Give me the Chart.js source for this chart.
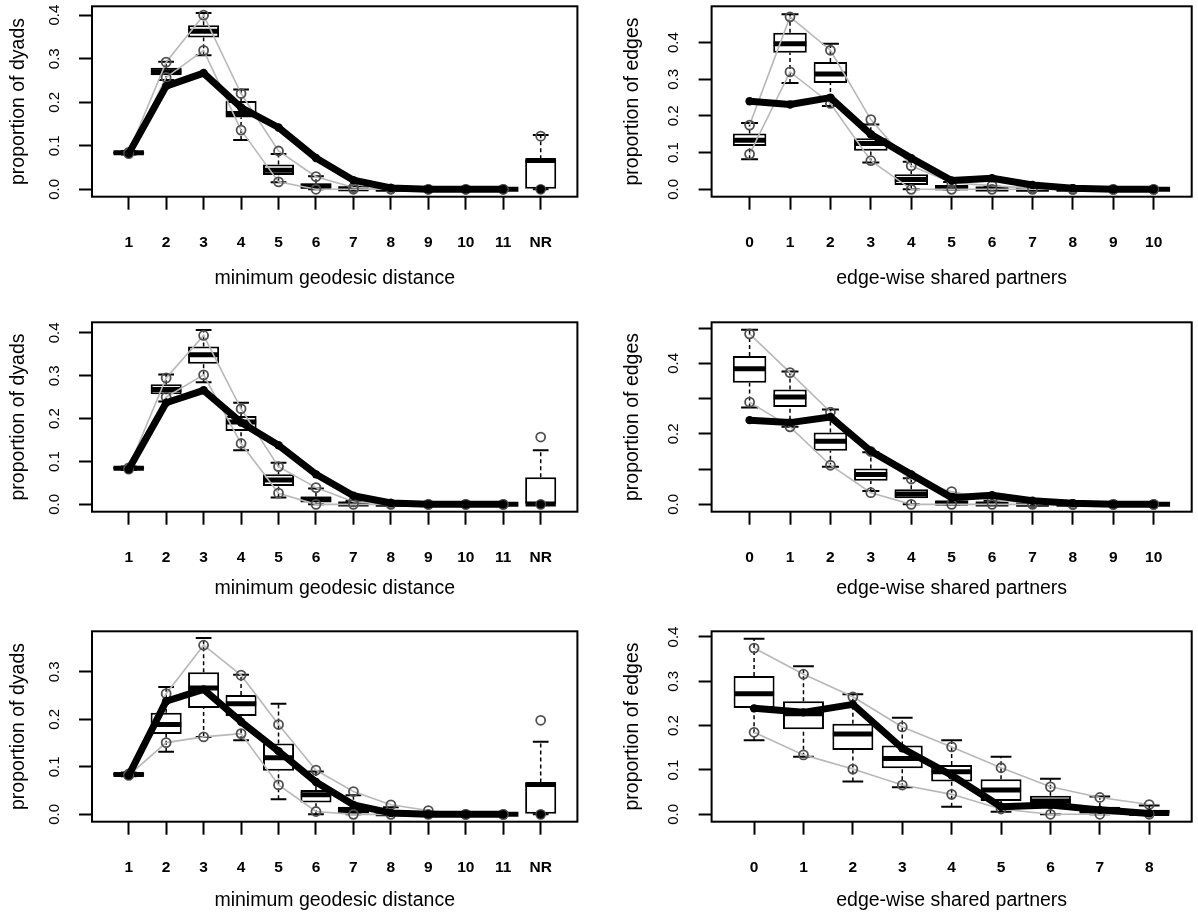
<!DOCTYPE html>
<html><head><meta charset="utf-8">
<script src="https://cdn.jsdelivr.net/npm/chart.js@4.4.1/dist/chart.umd.min.js"></script>
<style>
html,body{margin:0;padding:0;background:#fff;width:1198px;height:916px;overflow:hidden;}
canvas{position:absolute;}
</style></head><body>
<canvas id="c1"></canvas><canvas id="c2"></canvas><canvas id="c3"></canvas>
<canvas id="c4"></canvas><canvas id="c5"></canvas><canvas id="c6"></canvas>
<script>
// ---------- categories / tick labels ----------
const geoX = [1,2,3,4,5,6,7,8,9,10,11,12];
const geoLabels = ['1','2','3','4','5','6','7','8','9','10','11','NR'];
const esp10X = [0,1,2,3,4,5,6,7,8,9,10];
const esp10Labels = ['0','1','2','3','4','5','6','7','8','9','10'];
const esp8X = [0,1,2,3,4,5,6,7,8];
const esp8Labels = ['0','1','2','3','4','5','6','7','8'];

// ---------- panel A (top row) : geodesic ----------
const geoA_q1  = [0.081,0.262,0.349,0.165,0.033,0.002,0.000,0.000,0,0,0,0.000];
const geoA_med = [0.084,0.270,0.363,0.174,0.044,0.007,0.001,0.000,0,0,0,0.066];
const geoA_q3  = [0.087,0.279,0.377,0.203,0.057,0.014,0.003,0.001,0,0,0,0.069];
const geoA_lo  = [0.080,0.251,0.308,0.113,0.016,0.000,0.000,0.000,0,0,0,0.000];
const geoA_hi  = [0.088,0.293,0.405,0.229,0.081,0.030,0.006,0.002,0,0,0,0.125];
const geoA_ciLo= [0.082,0.257,0.319,0.136,0.017,0.000,0.000,0.000,0,0,0,0.000];
const geoA_ciHi= [0.085,0.292,0.400,0.220,0.088,0.029,0.004,0.001,0,0,0,0.122];
const geoA_obs = [0.082,0.237,0.267,0.188,0.142,0.072,0.021,0.003,0,0,0,0];
const geoA_yTicks = [0,0.1,0.2,0.3,0.4];

// ---------- panel A : edge-wise shared partners ----------
const espA_q1  = [0.118,0.372,0.290,0.105,0.012,0.000,0.000,0,0,0,0];
const espA_med = [0.134,0.397,0.314,0.125,0.027,0.004,0.001,0,0,0,0];
const espA_q3  = [0.152,0.427,0.347,0.139,0.041,0.012,0.003,0.001,0,0,0];
const espA_lo  = [0.082,0.290,0.227,0.073,0.000,0.000,0.000,0,0,0,0];
const espA_hi  = [0.181,0.477,0.397,0.177,0.075,0.020,0.008,0.002,0,0,0];
const espA_ciLo= [0.096,0.320,0.234,0.078,0.000,0.000,0.000,0,0,0,0];
const espA_ciHi= [0.175,0.470,0.379,0.190,0.064,0.018,0.010,0.002,0,0,0];
const espA_obs = [0.240,0.231,0.250,0.150,0.085,0.024,0.030,0.012,0.003,0,0];
const espA_yTicks = [0,0.1,0.2,0.3,0.4];

// ---------- panel B (middle row) : geodesic ----------
const geoB_q1  = [0.081,0.257,0.328,0.171,0.043,0.004,0.000,0.000,0,0,0,0.000];
const geoB_med = [0.084,0.268,0.349,0.192,0.057,0.012,0.001,0.000,0,0,0,0.001];
const geoB_q3  = [0.087,0.280,0.368,0.206,0.070,0.018,0.003,0.001,0,0,0,0.063];
const geoB_lo  = [0.080,0.240,0.285,0.126,0.016,0.000,0.000,0.000,0,0,0,0.000];
const geoB_hi  = [0.088,0.303,0.407,0.237,0.097,0.037,0.008,0.002,0,0,0,0.126];
const geoB_ciLo= [0.082,0.250,0.302,0.142,0.026,0.000,0.000,0.000,0,0,0,0.000];
const geoB_ciHi= [0.085,0.295,0.394,0.223,0.088,0.039,0.006,0.001,0,0,0,0.157];
const geoB_obs = [0.082,0.237,0.266,0.191,0.138,0.070,0.020,0.003,0,0,0,0];
const geoB_yTicks = [0,0.1,0.2,0.3,0.4];

// ---------- panel B : edge-wise shared partners ----------
const espB_q1  = [0.345,0.276,0.152,0.067,0.017,0.000,0.000,0,0,0,0];
const espB_med = [0.385,0.305,0.179,0.085,0.029,0.004,0.001,0,0,0,0];
const espB_q3  = [0.421,0.326,0.204,0.102,0.043,0.010,0.004,0.001,0,0,0];
const espB_lo  = [0.275,0.220,0.107,0.038,0.000,0.000,0.000,0,0,0,0];
const espB_hi  = [0.496,0.377,0.269,0.148,0.074,0.030,0.010,0.003,0,0,0];
const espB_ciLo= [0.290,0.220,0.111,0.033,0.000,0.000,0.000,0,0,0,0];
const espB_ciHi= [0.484,0.374,0.262,0.150,0.072,0.036,0.012,0.004,0,0,0];
const espB_obs = [0.239,0.232,0.248,0.151,0.085,0.019,0.026,0.010,0.003,0,0];
const espB_yTicks = [0,0.1,0.2,0.3,0.4,0.5];
const espB_yLabels = ['0.0','','0.2','','0.4',''];

// ---------- panel C (bottom row) : geodesic ----------
const geoC_q1  = [0.081,0.169,0.224,0.207,0.092,0.025,0.002,0.000,0.000,0,0,0.000];
const geoC_med = [0.084,0.189,0.266,0.233,0.119,0.041,0.009,0.001,0.000,0,0,0.063];
const geoC_q3  = [0.087,0.214,0.299,0.251,0.149,0.051,0.016,0.004,0.001,0,0,0.067];
const geoC_lo  = [0.080,0.132,0.163,0.156,0.032,0.000,0.000,0.000,0.000,0,0,0.000];
const geoC_hi  = [0.088,0.268,0.371,0.294,0.233,0.090,0.040,0.015,0.005,0,0,0.153];
const geoC_ciLo= [0.082,0.151,0.163,0.170,0.062,0.006,0.000,0.000,0.000,0,0,0.000];
const geoC_ciHi= [0.085,0.254,0.356,0.293,0.189,0.093,0.048,0.020,0.008,0,0,0.198];
const geoC_obs = [0.082,0.238,0.263,0.195,0.133,0.068,0.020,0.003,0,0,0,0];
const geoC_yTicks = [0,0.1,0.2,0.3];

// ---------- panel C : edge-wise shared partners ----------
const espC_q1  = [0.240,0.192,0.145,0.104,0.074,0.030,0.017,0.002,0.000];
const espC_med = [0.272,0.227,0.181,0.126,0.096,0.055,0.030,0.008,0.002];
const espC_q3  = [0.312,0.255,0.204,0.155,0.111,0.079,0.042,0.017,0.010];
const espC_lo  = [0.167,0.130,0.074,0.061,0.017,0.006,0.000,0.000,0.000];
const espC_hi  = [0.396,0.334,0.271,0.218,0.167,0.130,0.080,0.040,0.020];
const espC_ciLo= [0.185,0.134,0.102,0.066,0.045,0.012,0.000,0.000,0.000];
const espC_ciHi= [0.375,0.316,0.265,0.197,0.152,0.105,0.062,0.038,0.022];
const espC_obs = [0.239,0.230,0.248,0.149,0.088,0.017,0.021,0.010,0.002];
const espC_yTicks = [0,0.1,0.2,0.3,0.4];

const GEO_T = 'minimum geodesic distance', ESP_T = 'edge-wise shared partners';
const DY_T = 'proportion of dyads', ED_T = 'proportion of edges';

// ---------- layout (positions & styles only) ----------
const COL = [
  {left:0,   width:600, yAxisW:92,    padRight:22.6, yTitlePad:6.6},
  {left:600, width:598, yAxisW:111.6, padRight:2,    yTitlePad:20.9}
];
const ROW = [
  {top:0,   height:290, padTop:6,   xAxisH:93.3},
  {top:316, height:284, padTop:5.7, xAxisH:88.3},
  {top:625, height:287, padTop:6,   xAxisH:90.3}
];
const FONT = "'Liberation Sans', Arial, Helvetica, sans-serif";
const GREY = '#b8b8b8';

const framePlugin = {
  id: 'frame',
  afterDraw(chart) {
    const {ctx, chartArea: a} = chart;
    ctx.save();
    ctx.strokeStyle = '#000'; ctx.lineWidth = 2;
    ctx.strokeRect(a.left, a.top, a.right - a.left, a.bottom - a.top);
    ctx.restore();
  }
};

function unitPx(chart) {
  const s = chart.scales.x;
  return Math.abs(s.getPixelForValue(1) - s.getPixelForValue(0));
}

function panel(id, col, row, d) {
  const C = COL[col], R = ROW[row];
  const cv = document.getElementById(id);
  cv.width = C.width; cv.height = R.height;
  cv.style.left = C.left + 'px'; cv.style.top = R.top + 'px';
  cv.style.width = C.width + 'px'; cv.style.height = R.height + 'px';
  const xs = d.x, n = xs.length;
  const pts = arr => xs.map((x, i) => ({x, y: arr[i]}));
  const whisk = [];
  xs.forEach((x, i) => {
    whisk.push({x, y: d.q3[i]}, {x, y: d.hi[i]}, {x, y: null});
    whisk.push({x, y: d.lo[i]}, {x, y: d.q1[i]}, {x, y: null});
  });
  const hideLast = ctx => (d.nr && ctx.p1DataIndex === n - 1) ? 'rgba(0,0,0,0)' : undefined;
  const datasets = [
    {type:'line', data: whisk, borderColor:'#000', borderWidth:1.5, borderDash:[4,3],
     pointRadius:0, spanGaps:false, order:9},
    {type:'bar', data: xs.map((x, i) => ({x, y:[d.q1[i], d.q3[i]]})),
     backgroundColor:'#fff', borderColor:'#000', borderWidth:2, borderSkipped:false,
     categoryPercentage:1, barPercentage:0.83, grouped:false, order:8},
    {type:'line', data: pts(d.hi), showLine:false, pointStyle:'line', pointBorderColor:'#000',
     pointBorderWidth:2, pointRadius: c => 0.21 * unitPx(c.chart), order:7},
    {type:'line', data: pts(d.lo), showLine:false, pointStyle:'line', pointBorderColor:'#000',
     pointBorderWidth:2, pointRadius: c => 0.21 * unitPx(c.chart), order:7},
    {type:'line', data: pts(d.med), showLine:false, pointStyle:'line', pointBorderColor:'#000',
     pointBorderWidth:5, pointRadius: c => 0.405 * unitPx(c.chart), order:6},
    {type:'line', data: pts(d.ciLo), borderColor: GREY, borderWidth:1.6, tension:0,
     segment:{borderColor: hideLast}, pointStyle:'circle', pointRadius:4.5,
     pointBorderColor:'#505050', pointBackgroundColor:'rgba(0,0,0,0)', pointBorderWidth:1.8, order:3},
    {type:'line', data: pts(d.ciHi), borderColor: GREY, borderWidth:1.6, tension:0,
     segment:{borderColor: hideLast}, pointStyle:'circle', pointRadius:4.5,
     pointBorderColor:'#505050', pointBackgroundColor:'rgba(0,0,0,0)', pointBorderWidth:1.8, order:3},
    {type:'line', data: pts(d.obs), borderColor:'#000', borderWidth:7, tension:0,
     borderJoinStyle:'round', borderCapStyle:'round', segment:{borderColor: hideLast},
     pointRadius:4.2, pointBorderWidth:0, pointBackgroundColor:'#000', pointBorderColor:'#000', order:1}
  ];
  return new Chart(cv, {
    type: 'line',
    data: { datasets },
    plugins: [framePlugin],
    options: {
      responsive:false, animation:false, devicePixelRatio:1,
      layout: { padding: {top: R.padTop, right: C.padRight, left:0, bottom:0} },
      plugins: { legend:{display:false}, tooltip:{enabled:false} },
      scales: {
        x: {
          type:'linear', min: d.xmin, max: d.xmax, offset:false,
          afterBuildTicks: s => { s.ticks = xs.map(v => ({value: v})); },
          afterFit: s => { s.height = R.xAxisH; s.paddingLeft = 0; s.paddingRight = 0; },
          border:{display:false},
          grid:{display:true, offset:false, drawOnChartArea:false, drawTicks:true, tickLength:13,
                tickWidth:2, tickColor:'#000'},
          ticks:{ autoSkip:false, maxRotation:0, minRotation:0, padding:24, color:'#000',
                  font:{family:FONT, size:15.5, weight:'bold'},
                  callback: v => { const i = xs.indexOf(v); return i >= 0 ? d.labels[i] : ''; } },
          title:{display:true, text:d.xTitle, color:'#000', padding:0,
                 font:{family:FONT, size:19.5}}
        },
        y: {
          type:'linear', min: d.ymin, max: d.ymax,
          afterBuildTicks: s => { s.ticks = d.yTicks.map(v => ({value: v})); },
          afterFit: s => { s.width = C.yAxisW; s.paddingTop = 0; s.paddingBottom = 0; },
          border:{display:false},
          grid:{display:true, drawOnChartArea:false, drawTicks:true, tickLength:13,
                tickWidth:2, tickColor:'#000'},
          ticks:{ autoSkip:false, minRotation:90, maxRotation:90, crossAlign:'center',
                  padding:14, color:'#000', font:{family:FONT, size:15},
                  callback: v => { const i = d.yTicks.indexOf(v);
                    if (d.yLabels && i >= 0) return d.yLabels[i];
                    return Number(v).toFixed(1); } },
          title:{display:true, text:d.yTitle, color:'#000', padding:{top:C.yTitlePad, bottom:0},
                 font:{family:FONT, size:19.5}}
        }
      }
    }
  });
}

panel('c1', 0, 0, {x:geoX, labels:geoLabels, nr:true, xmin:0.02, xmax:12.98, ymin:-0.017, ymax:0.4204,
  q1:geoA_q1, med:geoA_med, q3:geoA_q3, lo:geoA_lo, hi:geoA_hi, ciLo:geoA_ciLo, ciHi:geoA_ciHi,
  obs:geoA_obs, yTicks:geoA_yTicks, xTitle:GEO_T, yTitle:DY_T});
panel('c2', 1, 0, {x:esp10X, labels:esp10Labels, nr:false, xmin:-0.94, xmax:10.94, ymin:-0.0201, ymax:0.4988,
  q1:espA_q1, med:espA_med, q3:espA_q3, lo:espA_lo, hi:espA_hi, ciLo:espA_ciLo, ciHi:espA_ciHi,
  obs:espA_obs, yTicks:espA_yTicks, xTitle:ESP_T, yTitle:ED_T});
panel('c3', 0, 1, {x:geoX, labels:geoLabels, nr:true, xmin:0.02, xmax:12.98, ymin:-0.0172, ymax:0.4247,
  q1:geoB_q1, med:geoB_med, q3:geoB_q3, lo:geoB_lo, hi:geoB_hi, ciLo:geoB_ciLo, ciHi:geoB_ciHi,
  obs:geoB_obs, yTicks:geoB_yTicks, xTitle:GEO_T, yTitle:DY_T});
panel('c4', 1, 1, {x:esp10X, labels:esp10Labels, nr:false, xmin:-0.94, xmax:10.94, ymin:-0.0209, ymax:0.5168,
  q1:espB_q1, med:espB_med, q3:espB_q3, lo:espB_lo, hi:espB_hi, ciLo:espB_ciLo, ciHi:espB_ciHi,
  obs:espB_obs, yTicks:espB_yTicks, yLabels:espB_yLabels, xTitle:ESP_T, yTitle:ED_T});
panel('c5', 0, 2, {x:geoX, labels:geoLabels, nr:true, xmin:0.02, xmax:12.98, ymin:-0.0155, ymax:0.3853,
  q1:geoC_q1, med:geoC_med, q3:geoC_q3, lo:geoC_lo, hi:geoC_hi, ciLo:geoC_ciLo, ciHi:geoC_ciHi,
  obs:geoC_obs, yTicks:geoC_yTicks, xTitle:GEO_T, yTitle:DY_T});
panel('c6', 1, 2, {x:esp8X, labels:esp8Labels, nr:false, xmin:-0.86, xmax:8.86, ymin:-0.0167, ymax:0.4128,
  q1:espC_q1, med:espC_med, q3:espC_q3, lo:espC_lo, hi:espC_hi, ciLo:espC_ciLo, ciHi:espC_ciHi,
  obs:espC_obs, yTicks:espC_yTicks, xTitle:ESP_T, yTitle:ED_T});
</script>
</body></html>
